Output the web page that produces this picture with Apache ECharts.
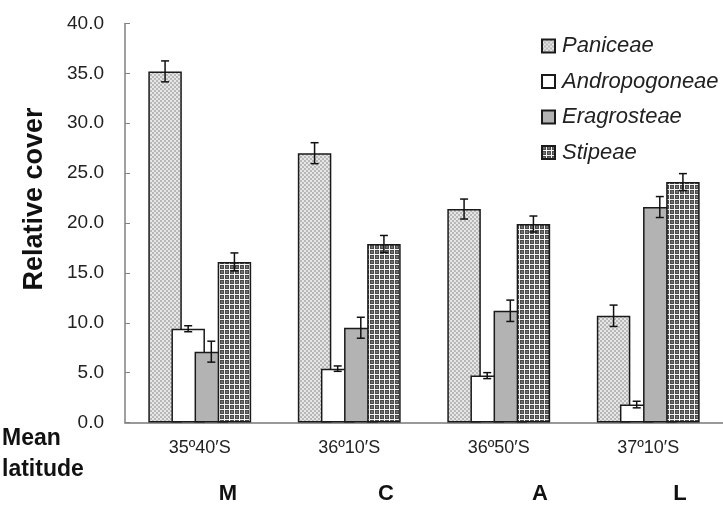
<!DOCTYPE html>
<html>
<head>
<meta charset="utf-8">
<script src="https://cdn.jsdelivr.net/npm/echarts@6/dist/echarts.min.js"></script>
<style>
html,body{margin:0;padding:0;background:#fff;}
#chart{width:723px;height:507px;}
</style>
</head>
<body>
<div id="chart"></div>
<script>
const categories = ['35º40′S', '36º10′S', '36º50′S', '37º10′S'];
const siteLetters = ['M', 'C', 'A', 'L'];
const seriesNames = ['Paniceae', 'Andropogoneae', 'Eragrosteae', 'Stipeae'];
const paniceae = [35.2, 27.0, 21.4, 10.7];
const paniceaeSE = [1.05, 1.05, 1.0, 1.07];
const andropogoneae = [9.4, 5.4, 4.7, 1.8];
const andropogoneaeSE = [0.3, 0.27, 0.3, 0.33];
const eragrosteae = [7.1, 9.5, 11.2, 21.6];
const eragrosteaeSE = [1.05, 1.05, 1.07, 1.05];
const stipeae = [16.1, 17.9, 19.9, 24.1];
const stipeaeSE = [0.9, 0.85, 0.8, 0.85];
const yTicks = [0, 5, 10, 15, 20, 25, 30, 35, 40];

const FONT = '"Liberation Sans", Arial, sans-serif';
const BAR_W = 33.5;
const BAR_GAP = -0.31;
const STEP = BAR_W * (1 + BAR_GAP);

function makePattern(kind) {
  const c = document.createElement('canvas');
  const ctx = c.getContext('2d');
  if (kind === 'dots') {
    c.width = 4; c.height = 4;
    ctx.fillStyle = '#e6e6e6'; ctx.fillRect(0, 0, 4, 4);
    ctx.fillStyle = '#b8b8b8';
    ctx.fillRect(0, 0, 2, 2); ctx.fillRect(2, 2, 2, 2);
  } else if (kind === 'grid') {
    c.width = 5; c.height = 5;
    ctx.fillStyle = '#4a4a4a'; ctx.fillRect(0, 0, 5, 5);
    ctx.fillStyle = '#707070'; ctx.fillRect(1, 1, 2, 2);
    ctx.fillStyle = '#f4f4f4';
    ctx.fillRect(4, 0, 1, 5); ctx.fillRect(0, 4, 5, 1);
  }
  return c;
}

const fills = [
  { image: makePattern('dots'), repeat: 'repeat' },
  '#ffffff',
  '#b3b3b3',
  { image: makePattern('grid'), repeat: 'repeat' }
];
const values = [paniceae, andropogoneae, eragrosteae, stipeae];
const errors = [paniceaeSE, andropogoneaeSE, eragrosteaeSE, stipeaeSE];

const series = [];
values.forEach((vals, i) => {
  series.push({
    name: seriesNames[i],
    type: 'bar',
    data: vals,
    barWidth: BAR_W,
    barGap: (BAR_GAP * 100) + '%',
    itemStyle: { color: fills[i], borderColor: '#1a1a1a', borderWidth: 1.5 },
    z: 2
  });
});
values.forEach((vals, i) => {
  const off = (i - 1.5) * STEP;
  series.push({
    name: 'err' + i,
    type: 'custom',
    z: 5,
    silent: true,
    encode: { x: 0, y: 1 },
    data: vals.map((v, k) => [k, v, errors[i][k]]),
    renderItem: function (params, api) {
      const top = api.coord([api.value(0), api.value(1) + api.value(2)]);
      const bot = api.coord([api.value(0), api.value(1) - api.value(2)]);
      const x = top[0] + off;
      const cap = 4;
      const st = { stroke: '#111', lineWidth: 1.5 };
      return {
        type: 'group',
        children: [
          { type: 'line', shape: { x1: x, y1: top[1], x2: x, y2: bot[1] }, style: st },
          { type: 'line', shape: { x1: x - cap, y1: top[1], x2: x + cap, y2: top[1] }, style: st },
          { type: 'line', shape: { x1: x - cap, y1: bot[1], x2: x + cap, y2: bot[1] }, style: st }
        ]
      };
    }
  });
});

const chart = echarts.init(document.getElementById('chart'), null, { renderer: 'canvas' });
const letterX = [228, 386, 540, 680];
const graphics = [
  {
    type: 'text', x: 35, y: 199, rotation: Math.PI / 2,
    style: { text: 'Relative cover', font: 'bold 27px ' + FONT, fill: '#111', textAlign: 'center', textVerticalAlign: 'middle' }
  },
  {
    type: 'text', left: 2, top: 423,
    style: { text: 'Mean\nlatitude', font: 'bold 23px ' + FONT, fill: '#111', lineHeight: 31 }
  }
];
siteLetters.forEach((s, i) => {
  graphics.push({
    type: 'text', x: letterX[i], y: 494,
    style: { text: s, font: 'bold 22px ' + FONT, fill: '#111', textAlign: 'center', textVerticalAlign: 'middle' }
  });
});

chart.setOption({
  animation: false,
  backgroundColor: '#fff',
  textStyle: { fontFamily: FONT },
  grid: { left: 125, top: 23.5, width: 610, bottom: 84.5, containLabel: false },
  legend: {
    data: seriesNames,
    orient: 'vertical',
    left: 536,
    top: 30,
    itemWidth: 13,
    itemHeight: 13,
    itemGap: 13.5,
    icon: 'rect',
    textStyle: { fontFamily: FONT, fontStyle: 'italic', fontSize: 22, color: '#222', lineHeight: 22, padding: [0, 0, 0, 2] }
  },
  xAxis: {
    type: 'category',
    data: categories,
    axisLine: { lineStyle: { color: '#999', width: 2 } },
    axisTick: { show: false },
    axisLabel: { fontSize: 18, color: '#222', margin: 17, fontFamily: FONT }
  },
  yAxis: {
    type: 'value',
    min: yTicks[0],
    max: yTicks[yTicks.length - 1],
    interval: 5,
    axisLine: { show: true, lineStyle: { color: '#808080', width: 1.5 } },
    axisTick: { show: true, inside: true, length: 5, lineStyle: { color: '#808080' } },
    splitLine: { show: false },
    axisLabel: { fontSize: 19, color: '#222', margin: 21, fontFamily: FONT, formatter: v => v.toFixed(1) }
  },
  graphic: graphics,
  series: series
});
</script>
</body>
</html>
